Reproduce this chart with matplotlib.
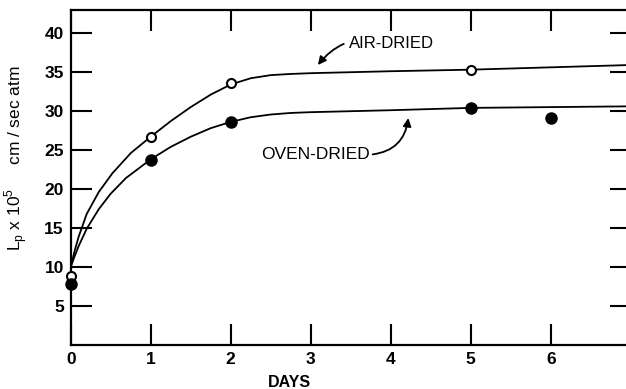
import matplotlib.pyplot as plt

# measured points
days_air = [0, 1, 2, 5]
lp_air = [8.9, 26.7, 33.6, 35.3]
days_oven = [0, 1, 2, 5, 6]
lp_oven = [7.8, 23.7, 28.6, 30.4, 29.1]

# hand drawn curves
curve_air_x = [0, 0.05, 0.1, 0.2, 0.35, 0.52, 0.75, 1, 1.25, 1.5, 1.75, 2, 2.25, 2.5, 2.75, 3, 4, 5, 6, 7]
curve_air_y = [10.0, 12.1, 13.9, 16.8, 19.6, 22.0, 24.6, 26.7, 28.7, 30.5, 32.1, 33.4, 34.2, 34.6, 34.75, 34.85, 35.1, 35.3, 35.6, 35.9]
curve_oven_x = [0, 0.05, 0.1, 0.2, 0.35, 0.5, 0.69, 1, 1.25, 1.5, 1.75, 2, 2.25, 2.5, 2.75, 3, 4, 5, 6, 7]
curve_oven_y = [10.0, 11.4, 12.7, 14.9, 17.4, 19.4, 21.4, 23.8, 25.4, 26.7, 27.8, 28.6, 29.2, 29.55, 29.75, 29.85, 30.1, 30.4, 30.5, 30.6]

x_ticks = [0, 1, 2, 3, 4, 5, 6, 7]
y_ticks = [5, 10, 15, 20, 25, 30, 35, 40]

plt.rcParams['font.family'] = ['Liberation Sans', 'DejaVu Sans']

fig = plt.figure(figsize=(6.26, 3.89), dpi=100)
ax = fig.add_axes([70.7 / 626, 1 - 345 / 389, 560 / 626, 335 / 389])

ax.plot(curve_air_x, curve_air_y, color='black', lw=1.3)
ax.plot(curve_oven_x, curve_oven_y, color='black', lw=1.3)
ax.plot(days_air, lp_air, 'o', ms=6.5, mfc='white', mec='black', mew=1.5, clip_on=False, zorder=3)
ax.plot(days_oven, lp_oven, 'o', ms=8, color='black', clip_on=False, zorder=3)

ax.set_xlim(0, 7)
ax.set_ylim(0, 42.95)
ax.set_xticks(x_ticks)
ax.set_yticks(y_ticks)
ax.tick_params(direction='in', length=15, width=1.5, top=True, right=True,
               labelsize=12.5, pad=5)
for lab in ax.get_xticklabels() + ax.get_yticklabels():
    lab.set_fontweight('bold')
for s in ax.spines.values():
    s.set_linewidth(1.6)

ax.set_xlabel('DAYS', fontsize=11.5, fontweight='bold', labelpad=5)
ax.xaxis.set_label_coords(2.73 / 7, -0.09)
ax.set_ylabel(r'L$_\mathregular{p}$ x 10$^\mathregular{5}$     cm / sec atm',
              fontsize=12.5)
ax.yaxis.set_label_coords(-0.072, 24 / 42.95)

ax.annotate('AIR-DRIED', xy=(3.09, 35.9), xytext=(3.48, 38.7), fontsize=12,
            va='center', ha='left',
            arrowprops=dict(arrowstyle='-|>', color='black', lw=1.3,
                            connectionstyle='arc3,rad=0.35', mutation_scale=12,
                            shrinkA=2, shrinkB=0))
ax.annotate('OVEN-DRIED', xy=(4.22, 29.1), xytext=(2.38, 24.4), fontsize=12.5,
            va='center', ha='left',
            arrowprops=dict(arrowstyle='-|>', color='black', lw=1.3,
                            connectionstyle='arc3,rad=0.4', mutation_scale=12,
                            shrinkA=0, shrinkB=0, relpos=(1, 0.5)))

fig.savefig('out.png', dpi=100)
